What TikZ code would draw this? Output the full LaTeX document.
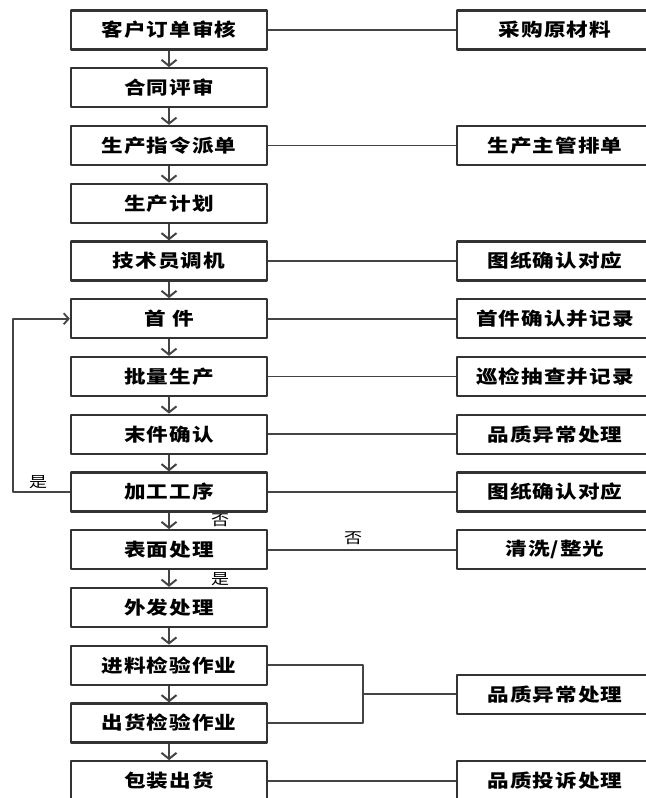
\documentclass[tikz,border=0pt]{standalone}
\usepackage{fontspec}
\setmainfont{Noto Sans CJK SC}[FakeStretch=1.2,LetterSpace=6]
\usetikzlibrary{arrows.meta}
\definecolor{boxline}{HTML}{333333}
\definecolor{conline}{HTML}{444444}
\begin{document}
\begin{tikzpicture}[>={Straight Barb[length=6bp,width=15bp]},line join=bevel,
  stepbox/.style={draw=boxline,line width=2.2bp,minimum width=196bp,minimum height=39bp,inner sep=0pt,font=\fontsize{18bp}{20bp}\selectfont\bfseries},
  flow/.style={conline,line width=2bp,->},
  link/.style={conline,line width=1.8bp},
  back/.style={conline,line width=1.8bp,-{Straight Barb[length=5bp,width=11bp]}},
  tag/.style={inner sep=0pt,font=\fontsize{15bp}{17bp}\selectfont}]
\useasboundingbox (0bp,0bp) rectangle (646bp,798bp);
%%
\node (node_0) at (169bp,768bp) [stepbox] {客户订单审核};
  \node (node_1) at (169bp,710.25bp) [stepbox] {合同评审};
  \node (node_2) at (169bp,652.5bp) [stepbox] {生产指令派单};
  \node (node_3) at (169bp,594.75bp) [stepbox] {生产计划};
  \node (node_4) at (169bp,537bp) [stepbox] {技术员调机};
  \node (node_5) at (169bp,479.25bp) [stepbox] {首 件};
  \node (node_6) at (169bp,421.5bp) [stepbox] {批量生产};
  \node (node_7) at (169bp,363.75bp) [stepbox] {末件确认};
  \node (node_8) at (169bp,306bp) [stepbox] {加工工序};
  \node (node_9) at (169bp,248.25bp) [stepbox] {表面处理};
  \node (node_10) at (169bp,190.5bp) [stepbox] {外发处理};
  \node (node_11) at (169bp,132.75bp) [stepbox] {进料检验作业};
  \node (node_12) at (169bp,75bp) [stepbox] {出货检验作业};
  \node (node_13) at (169bp,17.25bp) [stepbox] {包装出货};
%%
\node (node_14) at (555bp,768bp) [stepbox] {采购原材料};
  \node (node_15) at (555bp,652.5bp) [stepbox] {生产主管排单};
  \node (node_16) at (555bp,537bp) [stepbox] {图纸确认对应};
  \node (node_17) at (555bp,479.25bp) [stepbox] {首件确认并记录};
  \node (node_18) at (555bp,421.5bp) [stepbox] {巡检抽查并记录};
  \node (node_19) at (555bp,363.75bp) [stepbox] {品质异常处理};
  \node (node_20) at (555bp,306bp) [stepbox] {图纸确认对应};
  \node (node_21) at (555bp,248.25bp) [stepbox] {清洗/整光};
  \node (node_22) at (555bp,103.875bp) [stepbox] {品质异常处理};
  \node (node_23) at (555bp,17.25bp) [stepbox] {品质投诉处理};
%%
\node (tag_0) at (38bp,316bp) [tag] {是};
  \node (tag_1) at (220bp,278bp) [tag] {否};
  \node (tag_2) at (220bp,219bp) [tag] {是};
  \node (tag_3) at (353bp,260bp) [tag] {否};
%%
\draw [flow] (node_0) -- (node_1);
  \draw [flow] (node_1) -- (node_2);
  \draw [flow] (node_2) -- (node_3);
  \draw [flow] (node_3) -- (node_4);
  \draw [flow] (node_4) -- (node_5);
  \draw [flow] (node_5) -- (node_6);
  \draw [flow] (node_6) -- (node_7);
  \draw [flow] (node_7) -- (node_8);
  \draw [flow] (node_8) -- (node_9);
  \draw [flow] (node_9) -- (node_10);
  \draw [flow] (node_10) -- (node_11);
  \draw [flow] (node_11) -- (node_12);
  \draw [flow] (node_12) -- (node_13);
%
\draw [back] (node_8.west) -- ++(-57bp,0bp) |- (node_5.west);
%
\draw [link] (node_0) -- (node_14);
  \draw [link] (node_2) -- (node_15);
  \draw [link] (node_4) -- (node_16);
  \draw [link] (node_5) -- (node_17);
  \draw [link] (node_6) -- (node_18);
  \draw [link] (node_7) -- (node_19);
  \draw [link] (node_8) -- (node_20);
  \draw [link] (node_9) -- (node_21);
  \draw [link] (node_13) -- (node_23);
%
\draw [link] (node_11.east) -- ++(95bp,0bp) coordinate (brk_0) |- (node_12.east);
  \draw [link] (node_22.west) -- (node_22.west -| brk_0);
%
\end{tikzpicture}
\end{document}
